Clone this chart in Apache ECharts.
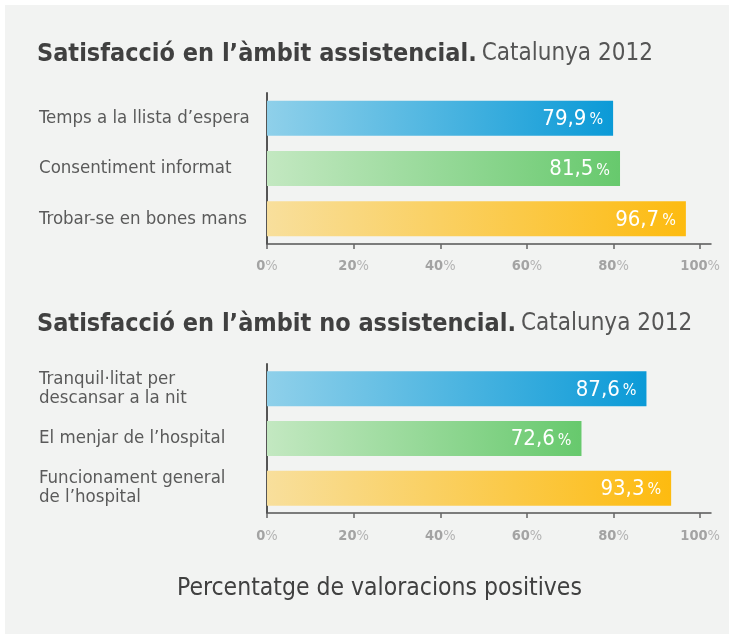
<!DOCTYPE html>
<html>
<head>
<meta charset="utf-8">
<script src="https://cdn.jsdelivr.net/npm/echarts@6/dist/echarts.min.js"></script>
<style>
  html, body { margin: 0; padding: 0; background: #fff; }
  #chart { width: 734px; height: 639px; }
</style>
</head>
<body>
<div id="chart"></div>
<script>
// dades
const categoriesA = ['Temps a la llista d’espera', 'Consentiment informat', 'Trobar-se en bones mans'];
const valuesA = [79.9, 81.5, 96.7];
const categoriesB = ['Tranquil·litat per\ndescansar a la nit', 'El menjar de l’hospital', 'Funcionament general\nde l’hospital'];
const valuesB = [87.6, 72.6, 93.3];
const tickValues = [0, 20, 40, 60, 80, 100];

const titleA = ['Satisfacció en l’àmbit assistencial.', 'Catalunya 2012'];
const titleB = ['Satisfacció en l’àmbit no assistencial.', 'Catalunya 2012'];
const footer = 'Percentatge de valoracions positives';

const FONT = '"DejaVu Sans Condensed", "Liberation Sans", sans-serif';

// colors per fila: [esquerra, dreta]
const rowColors = [
  ['#8fd0ea', '#0b9ad7'],
  ['#c3e8c1', '#67c96d'],
  ['#f8df9c', '#fdbb10']
];

function grad(c) {
  return new echarts.graphic.LinearGradient(0, 0, 1, 0, [
    { offset: 0, color: c[0] },
    { offset: 1, color: c[1] }
  ]);
}

function fmt(v) {
  return v.toFixed(1).replace('.', ',');
}

function buildData(values) {
  return values.map((v, i) => ({ value: v, itemStyle: { color: grad(rowColors[i]) } }));
}

function xAxisFor(gridIndex, margin) {
  return {
    type: 'value',
    gridIndex: gridIndex,
    min: 0,
    max: 102.5,
    splitLine: { show: false },
    axisLine: { show: true, lineStyle: { color: '#555', width: 1.5 } },
    axisTick: { show: true, length: 5, customValues: tickValues, lineStyle: { color: '#666', width: 1.5 } },
    axisLabel: {
      customValues: tickValues,
      margin: margin,
      formatter: (v) => `{n|${v}}{p|%}`,
      rich: {
        n: { fontFamily: FONT, fontSize: 14.5, fontWeight: 'bold', color: '#a3a3a3' },
        p: { fontFamily: FONT, fontSize: 14.5, color: '#b3b3b3' }
      }
    }
  };
}

function yAxisFor(gridIndex, cats) {
  return {
    type: 'category',
    gridIndex: gridIndex,
    data: cats,
    inverse: true,
    axisLine: { show: true, lineStyle: { color: '#555', width: 2 } },
    axisTick: { show: false },
    axisLabel: {
      align: 'left',
      margin: 228,
      fontFamily: FONT,
      fontSize: 18.5,
      lineHeight: 19,
      color: '#5a5a5a'
    }
  };
}

function seriesFor(idx, values) {
  return {
    type: 'bar',
    xAxisIndex: idx,
    yAxisIndex: idx,
    barWidth: 35,
    data: buildData(values),
    silent: true,
    label: {
      show: true,
      position: 'insideRight',
      distance: 10,
      formatter: (p) => `{v|${fmt(p.value)}}{p|%}`,
      rich: {
        v: { fontFamily: FONT, fontSize: 22, color: '#fff', verticalAlign: 'bottom', lineHeight: 24 },
        p: { fontFamily: FONT, fontSize: 16, color: '#fff', padding: [0, 0, 2, 3], verticalAlign: 'bottom', lineHeight: 20 }
      }
    }
  };
}

function titleFor(parts, top) {
  return {
    left: 37,
    top: top,
    padding: 0,
    text: `{b|${parts[0]}} {l|${parts[1]}}`,
    textStyle: {
      fontWeight: 'normal',
      rich: {
        b: { fontFamily: FONT, fontSize: 25, fontWeight: 'bold', color: '#404040', lineHeight: 30 },
        l: { fontFamily: FONT, fontSize: 24, fontWeight: 'normal', color: '#555', lineHeight: 30 }
      }
    }
  };
}

const chart = echarts.init(document.getElementById('chart'));
chart.setOption({
  backgroundColor: '#ffffff',
  animation: false,
  graphic: [
    { type: 'rect', z: -10, shape: { x: 5, y: 5, width: 724, height: 629 }, style: { fill: '#f2f3f2' } }
  ],
  title: [
    titleFor(titleA, 39),
    titleFor(titleB, 309),
    {
      left: 177,
      top: 574,
      padding: 0,
      text: footer,
      textStyle: { fontFamily: FONT, fontSize: 24.5, lineHeight: 30, fontWeight: 'normal', color: '#404040' }
    }
  ],
  grid: [
    { left: 267, top: 93, width: 444, height: 151 },
    { left: 267, top: 364, width: 444, height: 149 }
  ],
  xAxis: [xAxisFor(0, 15), xAxisFor(1, 16)],
  yAxis: [yAxisFor(0, categoriesA), yAxisFor(1, categoriesB)],
  series: [seriesFor(0, valuesA), seriesFor(1, valuesB)]
});
</script>
</body>
</html>
